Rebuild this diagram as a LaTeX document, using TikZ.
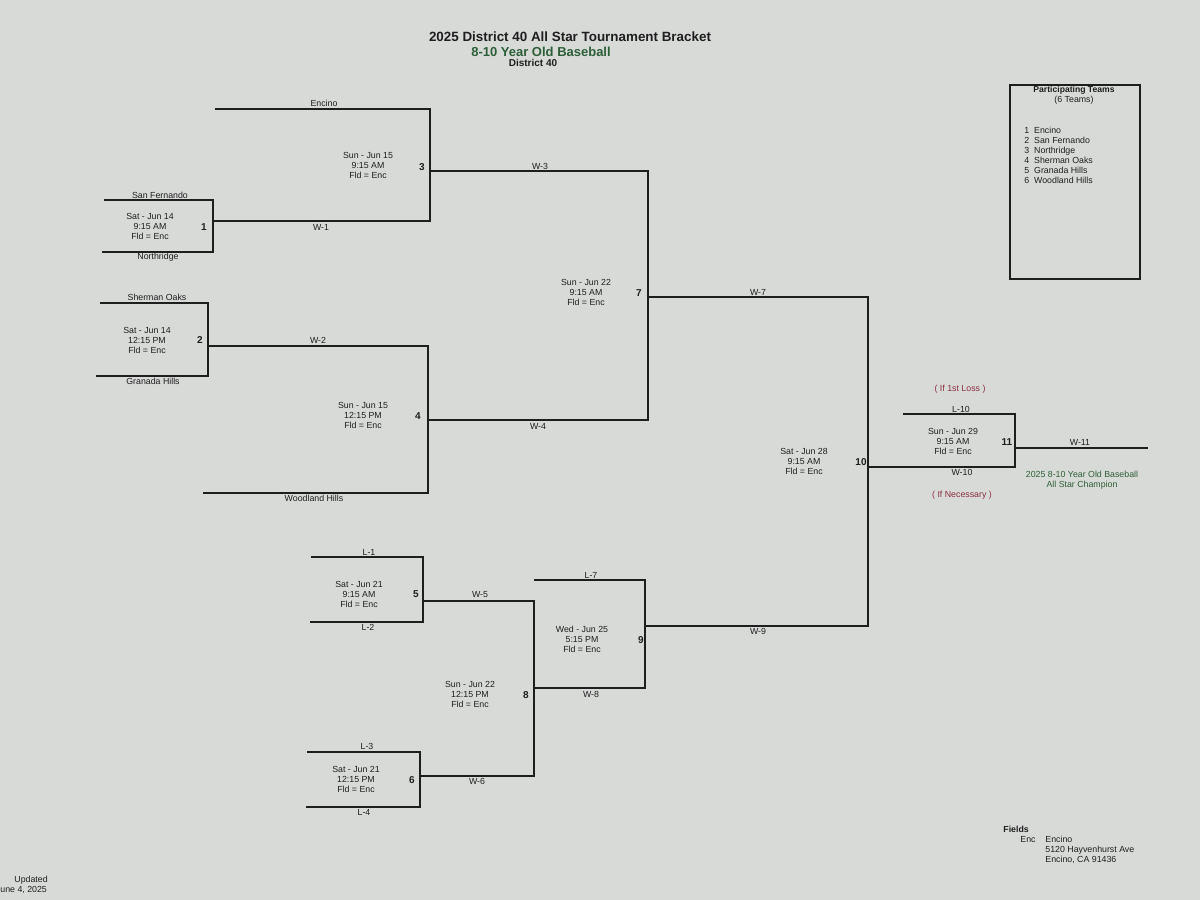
\documentclass[tikz,border=0pt]{standalone}
\usepackage{fontspec}
\setmainfont{Liberation Sans}
\definecolor{bgc}{RGB}{216,218,216}
\definecolor{linec}{RGB}{30,30,30}
\definecolor{greenc}{RGB}{45,95,55}
\definecolor{redc}{RGB}{140,45,65}
\tikzset{
  br/.style={line width=0.9pt, draw=linec, line cap=rect},
  txt/.style={font=\fontsize{4.4}{5}\selectfont, inner sep=0pt, text=linec},
  game/.style={txt, align=center},
  gnum/.style={font=\bfseries\fontsize{5}{6}\selectfont, inner sep=0pt, text=linec},
}
\begin{document}
\begin{tikzpicture}[x=0.5pt,y=-0.5pt]
\fill[bgc] (0,0) rectangle (1200,900);
\useasboundingbox (0,0) rectangle (1200,900);

% titles
\node[font=\bfseries\fontsize{6.7}{8}\selectfont, text=linec, inner sep=0pt] (title) at (570,37) {2025 District 40 All Star Tournament Bracket};
\node[font=\bfseries\fontsize{6.5}{8}\selectfont, text=greenc, inner sep=0pt] (sub) at (541,52) {8-10 Year Old Baseball};
\node[font=\bfseries\fontsize{5}{6}\selectfont, text=linec, inner sep=0pt] (dist) at (533,63) {District 40};

% coordinates
\coordinate (sfL) at (105,200); \coordinate (sfR) at (213,200);
\coordinate (nrL) at (103,252); \coordinate (nrR) at (213,252);
\coordinate (g1o) at (213,221); \coordinate (w1R) at (430,221);
\coordinate (enL) at (216,109); \coordinate (enR) at (430,109);
\coordinate (g3o) at (430,171); \coordinate (w3R) at (648,171);
\coordinate (soL) at (101,303); \coordinate (soR) at (208,303);
\coordinate (ghL) at (97,376);  \coordinate (ghR) at (208,376);
\coordinate (g2o) at (208,346); \coordinate (w2R) at (428,346);
\coordinate (whL) at (204,493); \coordinate (whR) at (428,493);
\coordinate (g4o) at (428,420); \coordinate (w4R) at (648,420);
\coordinate (g7o) at (648,297); \coordinate (w7R) at (868,297);
\coordinate (w9R) at (868,626);
\coordinate (g10o) at (868,467); \coordinate (w10R) at (1015,467);
\coordinate (l10L) at (904,414); \coordinate (l10R) at (1015,414);
\coordinate (g11o) at (1015,448); \coordinate (w11R) at (1147,448);
\coordinate (l1L) at (312,557); \coordinate (l1R) at (423,557);
\coordinate (l2L) at (311,622); \coordinate (l2R) at (423,622);
\coordinate (g5o) at (423,601); \coordinate (w5R) at (534,601);
\coordinate (l3L) at (308,752); \coordinate (l3R) at (420,752);
\coordinate (l4L) at (307,807); \coordinate (l4R) at (420,807);
\coordinate (g6o) at (420,776); \coordinate (w6R) at (534,776);
\coordinate (g8o) at (534,688); \coordinate (w8R) at (645,688);
\coordinate (l7L) at (535,580); \coordinate (l7R) at (645,580);
\coordinate (g9o) at (645,626);

% bracket lines
\draw[br] (sfL) -- (sfR) -- (nrR) -- (nrL);
\draw[br] (g1o) -- (w1R);
\draw[br] (enL) -- (enR) -- (w1R);
\draw[br] (g3o) -- (w3R);
\draw[br] (soL) -- (soR) -- (ghR) -- (ghL);
\draw[br] (g2o) -- (w2R);
\draw[br] (w2R) -- (whR) -- (whL);
\draw[br] (g4o) -- (w4R);
\draw[br] (w3R) -- (w4R);
\draw[br] (g7o) -- (w7R);
\draw[br] (w7R) -- (w9R);
\draw[br] (g10o) -- (w10R);
\draw[br] (l10L) -- (l10R) -- (w10R);
\draw[br] (g11o) -- (w11R);
\draw[br] (l1L) -- (l1R) -- (l2R) -- (l2L);
\draw[br] (g5o) -- (w5R);
\draw[br] (l3L) -- (l3R) -- (l4R) -- (l4L);
\draw[br] (g6o) -- (w6R);
\draw[br] (w5R) -- (w6R);
\draw[br] (g8o) -- (w8R);
\draw[br] (l7L) -- (l7R) -- (w8R);
\draw[br] (g9o) -- (w9R);

% team / line labels
\node[txt] (tSF) at (160,195) {San Fernando};
\node[txt] (tNR) at (158,257) {Northridge};
\node[txt] (tEN) at (324,103) {Encino};
\node[txt] (tW1) at (321,227) {W-1};
\node[txt] (tSO) at (157,297) {Sherman Oaks};
\node[txt] (tGH) at (153,381) {Granada Hills};
\node[txt] (tW2) at (318,340) {W-2};
\node[txt] (tWH) at (314,498) {Woodland Hills};
\node[txt] (tW3) at (540,166) {W-3};
\node[txt] (tW4) at (538,426) {W-4};
\node[txt] (tW7) at (758,292) {W-7};
\node[txt] (tW9) at (758,631) {W-9};
\node[txt] (tL10) at (961,409) {L-10};
\node[txt] (tW10) at (962,472) {W-10};
\node[txt] (tW11) at (1080,442) {W-11};
\node[txt] (tL1) at (369,552) {L-1};
\node[txt] (tL2) at (368,627) {L-2};
\node[txt] (tW5) at (480,595) {W-5};
\node[txt] (tL3) at (367,746) {L-3};
\node[txt] (tL4) at (364,812) {L-4};
\node[txt] (tW6) at (477,781) {W-6};
\node[txt] (tL7) at (591,575) {L-7};
\node[txt] (tW8) at (591,694) {W-8};

% game info
\node[game] (g1) at (150,226) {Sat - Jun 14\\9:15 AM\\Fld = Enc};
\node[game] (g2) at (147,340) {Sat - Jun 14\\12:15 PM\\Fld = Enc};
\node[game] (g3) at (368,165) {Sun - Jun 15\\9:15 AM\\Fld = Enc};
\node[game] (g4) at (363,415) {Sun - Jun 15\\12:15 PM\\Fld = Enc};
\node[game] (g7) at (586,292) {Sun - Jun 22\\9:15 AM\\Fld = Enc};
\node[game] (g10) at (804,461) {Sat - Jun 28\\9:15 AM\\Fld = Enc};
\node[game] (g11) at (953,441) {Sun - Jun 29\\9:15 AM\\Fld = Enc};
\node[game] (g5) at (359,594) {Sat - Jun 21\\9:15 AM\\Fld = Enc};
\node[game] (g6) at (356,779) {Sat - Jun 21\\12:15 PM\\Fld = Enc};
\node[game] (g8) at (470,694) {Sun - Jun 22\\12:15 PM\\Fld = Enc};
\node[game] (g9) at (582,639) {Wed - Jun 25\\5:15 PM\\Fld = Enc};

% game numbers
\node[gnum] (n1) at (204,227) {1};
\node[gnum] (n2) at (200,340) {2};
\node[gnum] (n3) at (422,167) {3};
\node[gnum] (n4) at (418,416) {4};
\node[gnum] (n5) at (416,594) {5};
\node[gnum] (n6) at (412,780) {6};
\node[gnum] (n7) at (639,293) {7};
\node[gnum] (n8) at (526,695) {8};
\node[gnum] (n9) at (641,640) {9};
\node[gnum] (n10) at (861,462) {10};
\node[gnum] (n11) at (1007,442) {11};

% notes
\node[txt, text=redc] (ifloss) at (960,389) {( If 1st Loss )};
\node[txt, text=redc] (ifnec) at (962,495) {( If Necessary )};
\node[txt, text=greenc, align=center] (champ) at (1082,480) {2025 8-10 Year Old Baseball\\All Star Champion};

% participating teams box
\draw[line width=0.8pt, draw=linec] (1010,85) rectangle (1140,279);
\node[font=\bfseries\fontsize{4.3}{5}\selectfont, text=linec, inner sep=0pt] (pt) at (1074,90) {Participating Teams};
\node[txt] (pt6) at (1074,100) {(6 Teams)};
\node[txt, align=left, anchor=north west] (plist) at (1024,127) {1\ \ Encino\\2\ \ San Fernando\\3\ \ Northridge\\4\ \ Sherman Oaks\\5\ \ Granada Hills\\6\ \ Woodland Hills};

% fields
\node[font=\bfseries\fontsize{4.4}{5}\selectfont, text=linec, inner sep=0pt, anchor=west] (fields) at (1003,829) {Fields};
\node[txt, anchor=west] (enc) at (1020,840) {Enc};
\node[txt, anchor=north west, align=left] (addr) at (1045,836) {Encino\\5120 Hayvenhurst Ave\\Encino, CA 91436};

% updated
\node[txt, anchor=west] (upd) at (14,880) {Updated};
\node[txt, anchor=west] (upd2) at (0,890) {une 4, 2025};
\end{tikzpicture}
\end{document}
